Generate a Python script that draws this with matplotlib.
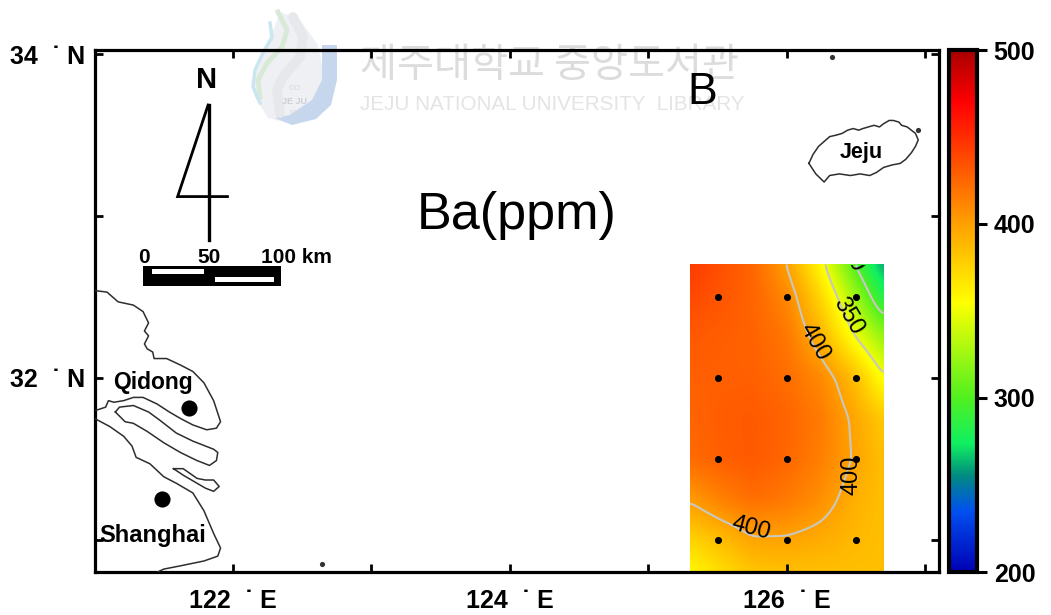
import numpy as np
import matplotlib
matplotlib.use("Agg")
import matplotlib.pyplot as plt
from matplotlib.colors import LinearSegmentedColormap
from matplotlib.patches import Rectangle

# Ba grid
grid_lon = [125.3, 125.5, 125.75, 126.0, 126.25, 126.5, 126.7]
grid_lat = [32.7, 32.5, 32.25, 32.0, 31.75, 31.5, 31.25, 31.0, 30.8]
ba = [[445, 436, 426, 400, 356, 298, 258],
      [438, 433, 426, 411, 373, 324, 280],
      [431, 429, 427, 418, 391, 350, 322],
      [428, 428, 428, 422, 410, 385, 352],
      [426, 429, 431, 426, 416, 396, 380],
      [423, 428, 431, 425, 414, 398, 385],
      [402, 413, 422, 417, 407, 392, 385],
      [375, 385, 398, 398, 394, 388, 385],
      [358, 370, 382, 385, 385, 385, 385]]

station_lon = [125.5, 126.0, 126.5]
station_lat = [32.5, 32.0, 31.5, 31.0]

cbar_vals = [200, 235, 255, 274, 300, 355, 400, 470, 500]
cbar_cols = ['#0000b4', '#0050f0', '#008a80', '#10f060', '#50f020', '#ffff00', '#ffa000', '#ff0000', '#a80000']
cbar_ticks = [200, 300, 400, 500]

# coastlines
north_lon = [121.00, 121.09, 121.17, 121.28, 121.35, 121.39, 121.36, 121.39, 121.36, 121.38, 121.42, 121.43, 121.52, 121.62, 121.71, 121.79, 121.86, 121.91, 121.88, 121.81, 121.71, 121.62, 121.54, 121.45, 121.35, 121.28, 121.21, 121.14, 121.10, 121.08, 121.01]
north_lat = [32.54, 32.53, 32.47, 32.45, 32.41, 32.34, 32.29, 32.26, 32.21, 32.18, 32.16, 32.12, 32.12, 32.08, 32.04, 31.97, 31.86, 31.73, 31.69, 31.68, 31.71, 31.75, 31.79, 31.84, 31.88, 31.88, 31.86, 31.85, 31.86, 31.82, 31.80]
island_lon = [121.15, 121.18, 121.28, 121.39, 121.47, 121.59, 121.71, 121.86, 121.89, 121.88, 121.83, 121.74, 121.62, 121.50, 121.38, 121.28, 121.22, 121.15]
island_lat = [31.79, 31.82, 31.83, 31.79, 31.74, 31.66, 31.61, 31.56, 31.54, 31.49, 31.46, 31.49, 31.54, 31.60, 31.67, 31.72, 31.73, 31.79]
south_lon = [121.00, 121.11, 121.21, 121.27, 121.30, 121.40, 121.50, 121.59, 121.71, 121.79, 121.86, 121.91, 121.89, 121.79, 121.62, 121.50, 121.45]
south_lat = [31.75, 31.70, 31.64, 31.58, 31.51, 31.47, 31.39, 31.35, 31.29, 31.18, 31.04, 30.95, 30.90, 30.87, 30.84, 30.82, 30.80]
islet_lon = [121.57, 121.64, 121.74, 121.80, 121.86, 121.90, 121.86, 121.80, 121.74, 121.64, 121.57]
islet_lat = [31.44, 31.44, 31.38, 31.37, 31.37, 31.33, 31.30, 31.32, 31.35, 31.40, 31.44]
jeju_lon = [126.16, 126.19, 126.23, 126.27, 126.31, 126.36, 126.40, 126.44, 126.48, 126.52, 126.55, 126.59, 126.63, 126.67, 126.70, 126.74, 126.77, 126.81, 126.83, 126.87, 126.90, 126.93, 126.95, 126.93, 126.90, 126.86, 126.82, 126.76, 126.70, 126.65, 126.60, 126.53, 126.46, 126.38, 126.31, 126.27, 126.21, 126.16]
jeju_lat = [33.325, 33.38, 33.43, 33.46, 33.49, 33.50, 33.51, 33.53, 33.54, 33.53, 33.54, 33.55, 33.56, 33.55, 33.57, 33.59, 33.59, 33.58, 33.56, 33.55, 33.53, 33.51, 33.47, 33.43, 33.39, 33.35, 33.325, 33.315, 33.30, 33.27, 33.25, 33.26, 33.25, 33.26, 33.25, 33.21, 33.26, 33.325]
speck_lon = [126.33, 122.64, 126.95]
speck_lat = [33.98, 30.85, 33.53]

city_names = ['Qidong', 'Shanghai']
city_lon = [121.68, 121.49]
city_lat = [31.815, 31.25]

W, H = 1051, 615
LW = 2.3
BOLD = 'Liberation Sans'

fig = plt.figure(figsize=(W / 100, H / 100), dpi=100)

#%% watermark, sits under everything, in pixels
bg = fig.add_axes([0, 0, 1, 1], zorder=0)
bg.set_xlim(0, W)
bg.set_ylim(H, 0)
bg.axis('off')
bg.fill([280, 300, 318, 325, 318, 292, 268, 254, 256, 268], [12, 20, 45, 80, 108, 124, 118, 95, 70, 45], color='#eef0f4', lw=0)
bg.plot([293, 303, 300, 283, 277, 280], [17, 37, 57, 77, 90, 113], color='#e6e8ec', lw=7, solid_capstyle='round')
bg.fill([322, 337, 337, 331, 316, 292, 275, 290, 312, 322], [45, 45, 80, 105, 119, 125, 118, 115, 100, 80], color='#c6d6ec', lw=0)
bg.plot([278, 287, 282, 267, 258, 260], [12, 30, 47, 63, 80, 97], color='#d8e9d8', lw=3.5)
bg.plot([270, 272, 263, 255, 253, 260], [23, 37, 53, 70, 87, 103], color='#cbe6f1', lw=2.5)
bg.text(295, 88, 'CO', fontsize=6, color='#d8d8dc', ha='center', va='center', family=BOLD)
bg.text(295, 101, 'JE JU', fontsize=6.5, color='#cfcfd4', ha='center', va='center', family=BOLD, weight='bold')
bg.text(295, 112, '1952', fontsize=4.5, color='#d8d8dc', ha='center', va='center', family=BOLD)
bg.text(550, 66, '제주대학교 중앙도서관', fontsize=29, color='#dcdcdc', ha='center', va='center',
        family=['Noto Sans CJK KR', 'DejaVu Sans'])
bg.text(552, 104, 'JEJU NATIONAL UNIVERSITY  LIBRARY', fontsize=14.9, color='#e4e4e4', ha='center', va='center', family=BOLD)

#%% main map
ax = fig.add_axes([95 / W, 1 - 572 / H, 844 / W, 522 / H], zorder=1)
ax.patch.set_alpha(0)
ax.set_xlim(121.003, 127.10)
ax.set_ylim(30.802, 34.025)

cmap = LinearSegmentedColormap.from_list('ba', [((v - 200) / 300, c) for v, c in zip(cbar_vals, cbar_cols)], N=512)


def blur(a, n):
    k = np.ones(n) / n
    for axis in (0, 1):
        for _ in range(2):
            pad = [(n, n) if i == axis else (0, 0) for i in (0, 1)]
            a = np.pad(a, pad, mode='edge')
            a = np.apply_along_axis(lambda r: np.convolve(r, k, mode='same'), axis, a)
            a = a[n:-n, :] if axis == 0 else a[:, n:-n]
    return a


# smooth the read grid for drawing, the way the original gridding looks
z = np.array(ba, dtype=float)
fine_lon = np.arange(125.3, 126.7001, 0.005)
fine_lat = np.arange(30.8, 32.7001, 0.005)
rows = np.array([np.interp(fine_lon, grid_lon, r) for r in z])
fine = np.array([np.interp(fine_lat, grid_lat[::-1], c[::-1]) for c in rows.T]).T
fine = blur(fine, 15)

im = ax.imshow(fine, extent=[125.3, 126.7, 30.8, 32.7], origin='lower', aspect='auto', cmap=cmap, vmin=200, vmax=500,
               interpolation='bilinear', zorder=1)
ax.contour(fine_lon, fine_lat, fine, levels=[300, 350, 400], colors='#c8c8c0', linewidths=1.5, zorder=2)

for lon, lat, txt, rot in [(126.44, 32.38, '350', -60), (126.20, 32.22, '400', -60),
                           (126.47, 31.40, '400', 90), (125.74, 31.07, '400', -15)]:
    ax.text(lon, lat, txt, rotation=rot, fontsize=17, ha='center', va='center', family=BOLD, zorder=4)
top_lbl = ax.text(126.45, 32.77, '300', rotation=-60, fontsize=17, ha='center', va='center', family=BOLD, zorder=4, clip_on=True)
top_lbl.set_clip_path(Rectangle((125.3, 30.8), 1.4, 1.9, transform=ax.transData))

lons, lats = np.meshgrid(station_lon, station_lat)
ax.scatter(lons.ravel(), lats.ravel(), s=26, color='black', lw=0, zorder=5)

for xs, ys in [(north_lon, north_lat), (island_lon, island_lat), (south_lon, south_lat), (islet_lon, islet_lat), (jeju_lon, jeju_lat)]:
    ax.plot(xs, ys, color='#2e2e2e', lw=1.1, zorder=3)
ax.scatter(speck_lon, speck_lat, s=14, color='#333333', lw=0, zorder=3)

ax.scatter(city_lon, city_lat, s=135, color='black', lw=0, zorder=5)
ax.text(121.42, 31.97, city_names[0], fontsize=16.5, weight='bold', family=BOLD, ha='center', va='center')
ax.text(121.42, 31.03, city_names[1], fontsize=17, weight='bold', family=BOLD, ha='center', va='center')
ax.text(126.54, 33.39, 'Jeju', fontsize=15.5, weight='bold', family=BOLD, ha='center', va='center')

# north arrow
ax.plot([121.82, 121.60, 121.96], [33.685, 33.12, 33.12], color='black', lw=2, solid_joinstyle='miter')
ax.plot([121.83, 121.83], [33.685, 32.85], color='black', lw=2.4)
ax.text(121.81, 33.84, 'N', fontsize=21, weight='bold', family=BOLD, ha='center', va='center')

# scale bar
ax.add_patch(Rectangle((121.35, 32.57), 1.0, 0.12, color='black', lw=0, zorder=5))
ax.add_patch(Rectangle((121.415, 32.645), 0.375, 0.025, color='white', lw=0, zorder=6))
ax.add_patch(Rectangle((121.87, 32.595), 0.425, 0.028, color='white', lw=0, zorder=6))
ax.text(121.36, 32.745, '0', fontsize=15, weight='bold', family=BOLD, ha='center', va='center')
ax.text(121.83, 32.745, '50', fontsize=15, weight='bold', family=BOLD, ha='center', va='center')
ax.text(122.46, 32.745, '100 km', fontsize=15, weight='bold', family=BOLD, ha='center', va='center')

ax.text(124.05, 33.005, 'Ba(ppm)', fontsize=37.5, family=BOLD, ha='center', va='center')
ax.text(125.39, 33.76, 'B', fontsize=32, family=BOLD, ha='center', va='center')

ax.set_xticks([122, 123, 124, 125, 126, 127])
ax.set_xticklabels(['122  ˙ E', '', '124  ˙ E', '', '126  ˙ E', ''], fontsize=18, weight='bold', family=BOLD)
ax.set_yticks([31, 32, 33, 34])
ax.set_yticklabels(['', '32  ˙ N', '', '34  ˙ N'], fontsize=18, weight='bold', family=BOLD)
ax.tick_params(direction='in', length=5.5, width=2, top=True, right=True)
ax.tick_params(axis='x', pad=12)
ax.tick_params(axis='y', pad=7)
for s in ax.spines.values():
    s.set_linewidth(LW)

#%% colour bar
cax = fig.add_axes([949 / W, 1 - 572 / H, 28 / W, 522 / H], zorder=1)
cb = fig.colorbar(im, cax=cax)
cb.set_ticks(cbar_ticks)
cb.ax.tick_params(direction='out', length=7, width=2.2, pad=5, labelsize=18, labelfontfamily=BOLD)
for t in cb.ax.get_yticklabels():
    t.set_fontweight('bold')
cb.outline.set_linewidth(LW * 1.3)

plt.savefig("out.png", dpi=100)
